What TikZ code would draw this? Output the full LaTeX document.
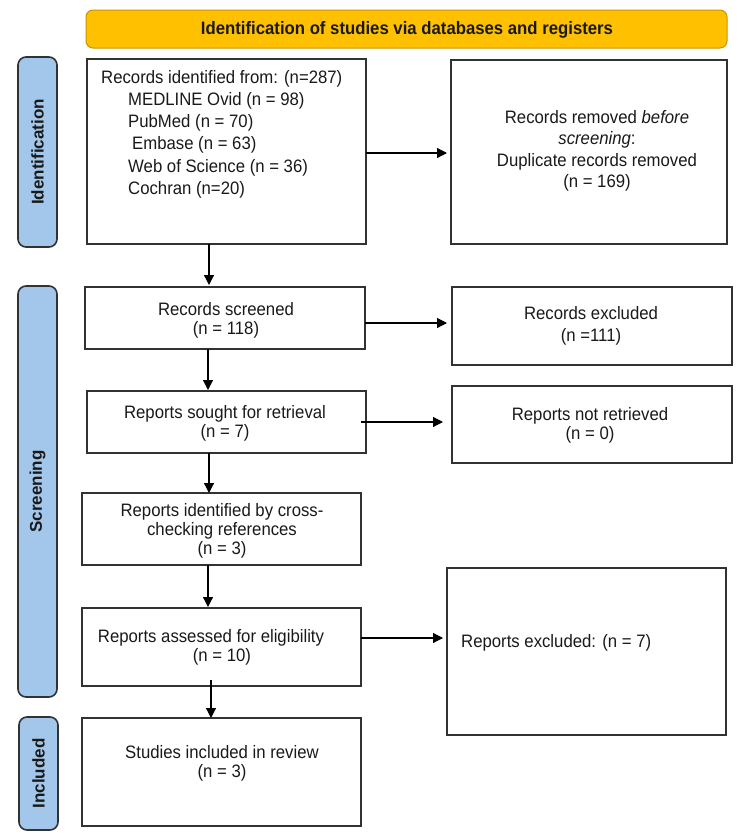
\documentclass[tikz,border=0pt]{standalone}
\usepackage{fontspec}
\setmainfont{Liberation Sans}[FakeStretch=0.93]
\newfontfamily\sidefont{Liberation Sans}
\usetikzlibrary{arrows.meta,fit}
\definecolor{titlefill}{RGB}{255,192,0}
\definecolor{titleline}{RGB}{200,150,0}
\definecolor{barfill}{RGB}{163,199,235}
\definecolor{boxline}{RGB}{50,50,50}
\definecolor{inktext}{RGB}{25,25,25}
\tikzset{
  x=1pt, y=-1pt,
  box/.style={draw=boxline, line width=1.6pt, inner sep=0pt, outer sep=0pt},
  titlebox/.style={draw=titleline, fill=titlefill, line width=1pt, rounded corners=7pt, inner sep=0pt, outer sep=0pt},
  sidebar/.style={draw=boxline, fill=barfill, line width=1.6pt, rounded corners=8pt, inner sep=0pt, outer sep=0pt},
  txt/.style={inner sep=0pt, align=center, text=inktext, font=\fontsize{18}{19}\selectfont},
  sidetxt/.style={inner sep=0pt, rotate=90, text=inktext, font=\sidefont\bfseries\fontsize{17}{19}\selectfont},
  arr/.style={draw=black, line width=1.2pt, -{Triangle[length=10pt,width=10pt]}},
}
\begin{document}
\begin{tikzpicture}
\useasboundingbox (0,0) rectangle (750,839);
% boxes
\node[titlebox, fit={(86,10) (727,48)}] (title) {};
\node[sidebar, fit={(18,57) (57,247)}] (idbar) {};
\node[sidebar, fit={(18,286) (57,697)}] (scrbar) {};
\node[sidebar, fit={(19,717) (58,830)}] (incbar) {};
\node[box, fit={(87,59) (366,244)}] (box1) {};
\node[box, fit={(451,60) (727,244)}] (box2) {};
\node[box, fit={(85,287) (365,349)}] (screened) {};
\node[box, fit={(452,287) (732,365)}] (excluded) {};
\node[box, fit={(87,391) (366,453)}] (sought) {};
\node[box, fit={(452,386) (732,463)}] (notret) {};
\node[box, fit={(82,493) (361,565)}] (cross) {};
\node[box, fit={(82,608) (361,686)}] (assessed) {};
\node[box, fit={(447,568) (726,735)}] (repexcl) {};
\node[box, fit={(82,718) (361,826)}] (studies) {};
% texts
\node[txt, font=\bfseries\fontsize{18}{19}\selectfont] (titleT) at (407,29.5) {Identification of studies via databases and registers};
\node[sidetxt] (idT) at (37.5,152) {Identification};
\node[sidetxt] (scrT) at (37.5,491.5) {Screening};
\node[sidetxt] (incT) at (38.5,773.5) {Included};
\node[txt, align=left, anchor=north west, font=\fontsize{18}{22.2}\selectfont] (box1T) at (101,70) {Records identified from: (n=287)\\
\hspace*{27pt}MEDLINE Ovid (n = 98)\\
\hspace*{27pt}PubMed (n = 70)\\
\hspace*{31pt}Embase (n = 63)\\
\hspace*{27pt}Web of Science (n = 36)\\
\hspace*{27pt}Cochran (n=20)};
\node[txt, font=\fontsize{18}{21.5}\selectfont] (box2T) at (597,151) {Records removed \textit{before}\\ \textit{screening}:\\ Duplicate records removed\\ (n = 169)};
\node[txt] (screenedT) at (226,320) {Records screened\\ (n = 118)};
\node[txt, font=\fontsize{18}{21.7}\selectfont] (excludedT) at (591,326) {Records excluded\\ (n =111)};
\node[txt] (soughtT) at (225,423.5) {Reports sought for retrieval\\ (n = 7)};
\node[txt] (notretT) at (590,425.5) {Reports not retrieved\\ (n = 0)};
\node[txt] (crossT) at (222,531) {Reports identified by cross-\\ checking references\\ (n = 3)};
\node[txt] (assessedT) at (222,647.5) {Reports assessed for eligibility\hspace*{22pt}\\ (n = 10)};
\node[txt, anchor=west] (repexclT) at (461,643) {Reports excluded: (n = 7)};
\node[txt] (studiesT) at (222,763.5) {Studies included in review\\ (n = 3)};
% helper coordinates for connector lines
\coordinate (vA) at (209,0);
\coordinate (vB) at (208,0);
\coordinate (vC) at (211,0);
\coordinate (hA) at (0,153);
\coordinate (hB) at (0,323);
\coordinate (hC) at (0,422);
\coordinate (hD) at (0,638);
% connectors
\draw[arr, shorten >=2pt] (box1.south -| vA) -- (screened.north -| vA);
\draw[arr, shorten >=4pt] (box1.east |- hA) -- (box2.west |- hA);
\draw[arr, shorten >=5pt] (screened.east |- hB) -- (excluded.west |- hB);
\draw[arr, shorten >=1pt] (screened.south -| vB) -- (sought.north -| vB);
\draw[arr, shorten <=-5pt, shorten >=9pt] (sought.east |- hC) -- (notret.west |- hC);
\draw[arr] (sought.south -| vA) -- (cross.north -| vA);
\draw[arr, shorten >=1pt] (cross.south -| vB) -- (assessed.north -| vB);
\draw[arr, shorten >=4pt] (assessed.east |- hD) -- (repexcl.west |- hD);
\draw[arr, shorten <=-6pt] (assessed.south -| vC) -- (studies.north -| vC);
\end{tikzpicture}
\end{document}
